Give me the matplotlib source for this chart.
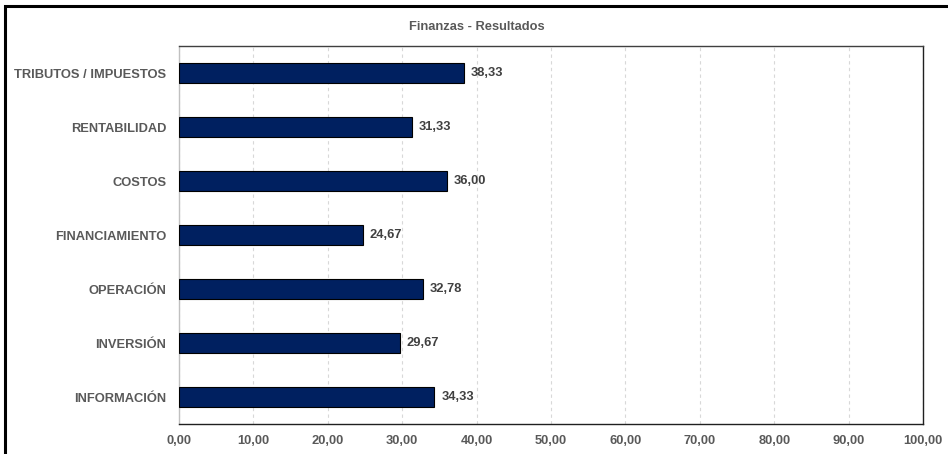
import matplotlib
matplotlib.use("Agg")
import matplotlib.pyplot as plt
from matplotlib.patches import Rectangle
from matplotlib.ticker import FixedLocator, FuncFormatter

plt.rcParams['font.family'] = ['Liberation Sans', 'DejaVu Sans']

categories = ["INFORMACIÓN", "INVERSIÓN", "OPERACIÓN", "FINANCIAMIENTO",
              "COSTOS", "RENTABILIDAD", "TRIBUTOS / IMPUESTOS"]
values = [34.33, 29.67, 32.78, 24.67, 36.00, 31.33, 38.33]
x_ticks = [0, 10, 20, 30, 40, 50, 60, 70, 80, 90, 100]
title = "Finanzas - Resultados"

W, H = 948, 454
fig = plt.figure(figsize=(W / 100, H / 100), dpi=100)

# outer chart frame
fig.patches.append(Rectangle((4.5 / W, -0.1), 1.2, (H - 5.5) / H + 0.1,
                             transform=fig.transFigure, fill=False,
                             edgecolor="black", linewidth=2.2))

ax = fig.add_axes([179 / W, 1 - 424 / H, (923 - 179) / W, (424 - 46) / H])

text_color = "#595959"
bar_color = "#002060"
fs = 9.3

ypos = list(range(len(categories)))
ax.barh(ypos, values, height=0.36, color=bar_color, edgecolor="black",
        linewidth=0.8, zorder=3)

for y, v in zip(ypos, values):
    ax.annotate(f"{v:.2f}".replace(".", ","), xy=(v, y), xytext=(5, 0),
                textcoords="offset points", va="center", ha="left",
                fontsize=fs, fontweight="bold", color="#404040")

ax.set_xlim(0, 100)
ax.set_ylim(-0.5, len(categories) - 0.5)
ax.xaxis.set_major_locator(FixedLocator(x_ticks))
ax.xaxis.set_major_formatter(FuncFormatter(lambda x, _: f"{x:.2f}".replace(".", ",")))
ax.set_yticks(ypos)
ax.set_yticklabels(categories)

ax.grid(axis="x", color="#d8d8d8", linestyle=(0, (3, 3)), linewidth=0.8, zorder=0)
ax.tick_params(length=0, labelsize=fs, labelcolor=text_color)
ax.tick_params(axis="y", pad=9)
ax.tick_params(axis="x", pad=8)
for lbl in ax.get_xticklabels() + ax.get_yticklabels():
    lbl.set_fontweight("bold")

ax.spines["left"].set_color("#c0c0c0")
ax.spines["top"].set_color("#404040")
ax.spines["right"].set_color("#202020")
ax.spines["bottom"].set_color("#202020")
for s in ax.spines.values():
    s.set_linewidth(1.0)

fig.text(477 / W, 1 - 27 / H, title, ha="center", va="center",
         fontsize=fs, fontweight="bold", color=text_color)

fig.savefig("out.png", dpi=100)
